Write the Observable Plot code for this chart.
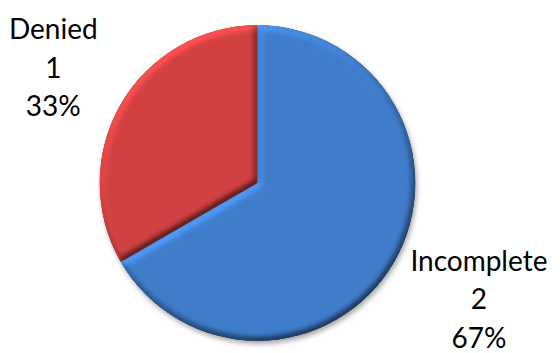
<!DOCTYPE html>
<html>
<head>
<meta charset="utf-8">
<script src="https://cdn.jsdelivr.net/npm/d3@7"></script>
<script src="https://cdn.jsdelivr.net/npm/@observablehq/plot@0.6"></script>
<style>
  html, body { margin: 0; padding: 0; background: #fff; }
  #chart { width: 560px; height: 353px; }
</style>
</head>
<body>
<div id="chart"></div>
<script>
// ---- data ----
const categories = ["Incomplete", "Denied"];
const counts = [2, 1];
const colors = ["#3f7dcb", "#d24141"];

// ---- layout ----
const W = 560, H = 353;
const CX = 257.5, CY = 183, R = 158;
const FONT_SIZE = 28, LINE = 38.5, CAP = 20, PAD = 33;

const total = d3.sum(counts);
const rows = categories.map((c, i) => ({category: c, value: counts[i], pct: Math.round(counts[i] / total * 100)}));
const arcs = d3.pie().sort(null).value(d => d.value)(rows);
const color = Plot.scale({color: {domain: categories, range: colors}});

// label placement (outside end, best fit, kept inside the chart area)
const ctx = document.createElement("canvas").getContext("2d");
ctx.font = `${FONT_SIZE}px Lato`;
const labels = arcs.map(a => {
  const lines = [a.data.category, String(a.data.value), a.data.pct + "%"];
  const w = d3.max(lines, s => ctx.measureText(s).width);
  const h = 2 * LINE + CAP;
  const mid = (a.startAngle + a.endAngle) / 2;
  const dx = Math.sin(mid), dy = -Math.cos(mid);
  const ext = Math.hypot(dx * w / 2, dy * h / 2);
  const d = R + PAD + ext;
  let x = CX + dx * d, y = CY + dy * d;
  x = Math.max(w / 2 + 4, Math.min(W - w / 2 - 4, x));
  y = Math.max(h / 2 + 8, Math.min(H - h / 2 - 8, y));
  return {x, y, text: lines.join("\n")};
});

function pieMark(index, scales, values, dimensions, context) {
  const svg = d3.select(context.document.createElementNS("http://www.w3.org/2000/svg", "g"));
  const defs = svg.append("defs");
  const f = defs.append("filter").attr("id", "bevel")
    .attr("x", "-10%").attr("y", "-10%").attr("width", "120%").attr("height", "120%")
    .attr("color-interpolation-filters", "sRGB");
  f.append("feGaussianBlur").attr("in", "SourceAlpha").attr("stdDeviation", 3.5).attr("result", "b");
  const lt = f.append("feDiffuseLighting").attr("in", "b").attr("surfaceScale", 5)
    .attr("diffuseConstant", 0.707).attr("lighting-color", "white").attr("result", "l");
  lt.append("feDistantLight").attr("azimuth", 240).attr("elevation", 45);
  f.append("feComposite").attr("in", "SourceGraphic").attr("in2", "l").attr("operator", "arithmetic")
    .attr("k1", 1).attr("k2", 0.5).attr("k3", 0).attr("k4", 0).attr("result", "lit");
  f.append("feComposite").attr("in", "lit").attr("in2", "SourceAlpha").attr("operator", "in");
  const sh = defs.append("filter").attr("id", "shadow")
    .attr("x", "-20%").attr("y", "-20%").attr("width", "140%").attr("height", "140%");
  sh.append("feGaussianBlur").attr("stdDeviation", 2.5);

  const arcGen = d3.arc().innerRadius(0).outerRadius(R);
  const g = svg.append("g").attr("transform", `translate(${CX},${CY})`);
  g.append("circle").attr("cx", 1.5).attr("cy", 3).attr("r", R)
    .attr("fill", "#000").attr("fill-opacity", 0.35).attr("filter", "url(#shadow)");
  g.selectAll("path.slice").data(arcs).join("path")
    .attr("class", "slice")
    .attr("d", arcGen)
    .attr("fill", a => scales.color ? scales.color(a.data.category) : color.apply(a.data.category))
    .attr("filter", "url(#bevel)");
  return svg.node();
}

const chart = Plot.plot({
  width: W, height: H, margin: 0,
  x: {type: "identity", axis: null},
  y: {type: "identity", axis: null},
  marks: [
    pieMark,
    Plot.text(labels, {
      x: "x", y: "y", text: "text",
      fontSize: FONT_SIZE, fontFamily: "Lato", lineHeight: LINE / FONT_SIZE,
      textAnchor: "middle", lineAnchor: "middle", fill: "#000"
    })
  ]
});
document.getElementById("chart").appendChild(chart);
</script>
</body>
</html>
